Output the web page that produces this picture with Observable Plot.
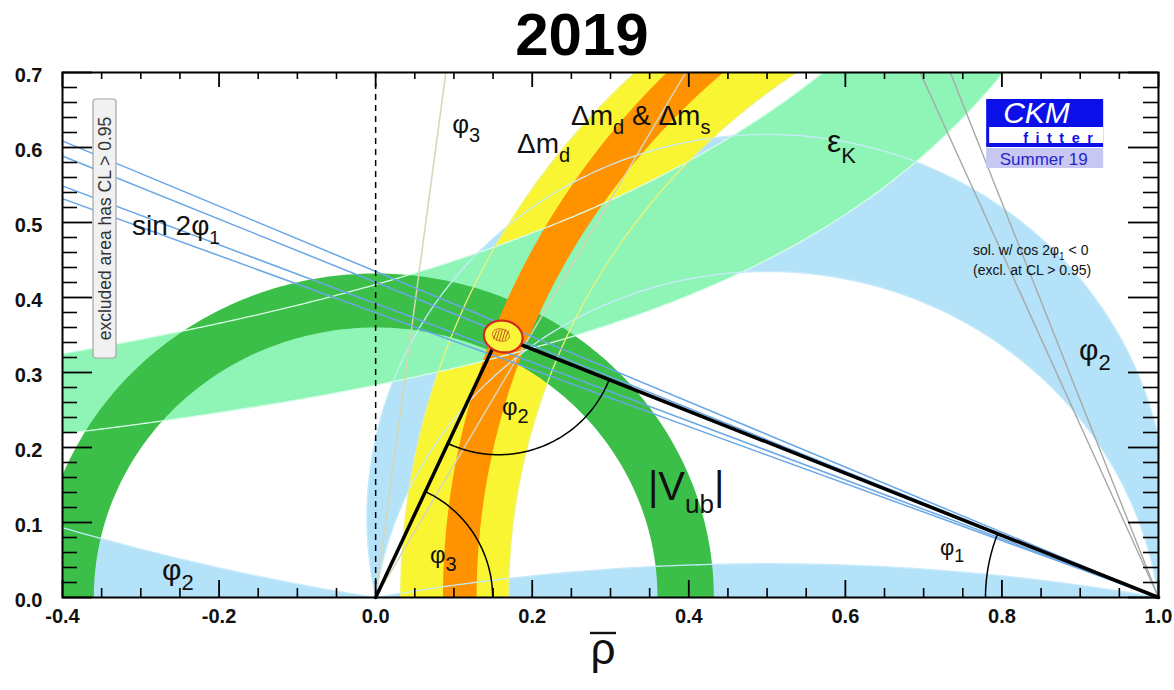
<!DOCTYPE html>
<html>
<head>
<meta charset="utf-8">
<script src="https://cdn.jsdelivr.net/npm/d3@7"></script>
<script src="https://cdn.jsdelivr.net/npm/@observablehq/plot@0.6"></script>
<style>
  html,body{margin:0;padding:0;background:#fff;}
  #chart svg{display:block;}
</style>
</head>
<body>
<div id="chart"></div>
<script>
// ---------------- data ----------------
const xDomain = [-0.4, 1.0];
const yDomain = [0.0, 0.7];
const xMajor = [-0.4, -0.2, 0.0, 0.2, 0.4, 0.6, 0.8, 1.0];
const yMajor = [0.0, 0.1, 0.2, 0.3, 0.4, 0.5, 0.6, 0.7];
const xTickLabels = ["-0.4", "-0.2", "0.0", "0.2", "0.4", "0.6", "0.8", "1.0"];
const yTickLabels = ["0.0", "0.1", "0.2", "0.3", "0.4", "0.5", "0.6", "0.7"];
const xMinorStep = 0.05, yMinorStep = 0.02;

// |Vub| : annulus centred on the origin (inner, outer radius)
const vubRadii = [0.360, 0.432];
// Δmd (yellow) and Δmd & Δms (orange): boundary circles [centre on ρ axis, radius]
const dmdInner = [1.000, 0.968];
const dmdOuter = [1.0197, 0.850];
const dmsInner = [1.0857, 0.9997];
const dmsOuter = [1.064, 0.935];
// εK band boundaries : η = a / (b − ρ)  [a, b]
const epsUpper = [0.590, 1.414];
const epsLower = [0.381, 1.346];
// φ2 constraint: constant-angle circles through (0,0) and (1,0), degrees
const alphaBand = [78, 98];
const alphaFlat = 169.7;
const alphaMirror = 9.3;
// sin 2φ1 lines through (1,0), φ1 in degrees; and the cos2φ1<0 solution
const sin2b = [20.8, 21.4, 22.8, 23.5];
const sin2bAlt = [66.5, 69.2];
// φ3 lines through the origin, degrees
const gamma = [60.5, 82.7];
// unitarity-triangle apex and global fit region
const apex = [0.157, 0.349];
const fitBlob = {cx: 0.163, cy: 0.348, a: 0.025, b: 0.021, tilt: -15};
const fitCore = {cx: 0.160, cy: 0.350, a: 0.011, b: 0.008, tilt: -15};
const hatchOffsets = [-0.0075, -0.0038, 0, 0.0038, 0.0075];
// angle-arc radii (pixels)
const arcPx = {phi1: 173, phi2: 119, phi3: 117};

const colors = {
  alpha: "#b4e2f8", eps: "#8ef5b6", dmd: "#f9f532", vub: "#3cbf48", dms: "#ff9200",
  alphaLine: "#c8ebfb", epsLine: "#d8fde8", dmdLine: "#eef27a",
  sin2b: "#69a7e6", alt: "#a8a8a8", gamma: "#d6d6b4"
};

const labels = [
  {x: -0.3106, y: 0.4827, size: 28, sub: 19, parts: ["sin 2φ", "_1"]},
  {x: 0.0984, y: 0.6187, size: 26, sub: 20, parts: ["φ", "_3"]},
  {x: 0.1812, y: 0.592, size: 28, sub: 20, parts: ["Δm", "_d"]},
  {x: 0.2502, y: 0.6293, size: 28, sub: 20, parts: ["Δm", "_d", " & Δm", "_s"]},
  {x: 0.5772, y: 0.5933, size: 32, sub: 22, parts: ["ε", "_K"]},
  {x: 0.899, y: 0.316, size: 30, sub: 22, parts: ["φ", "_2"]},
  {x: 0.162, y: 0.2427, size: 24, sub: 20, parts: ["φ", "_2"]},
  {x: 0.070, y: 0.0453, size: 24, sub: 20, parts: ["φ", "_3"]},
  {x: 0.7215, y: 0.056, size: 22, sub: 18, parts: ["φ", "_1"]},
  {x: 0.3485, y: 0.1293, size: 40, sub: 26, parts: ["|V", "_ub", "|"]},
  {x: -0.2723, y: 0.0227, size: 30, sub: 22, parts: ["φ", "_2"]},
  {x: 0.7637, y: 0.456, size: 14, sub: 10, parts: ["sol. w/ cos 2φ", "_1", " < 0"]},
  {x: 0.7637, y: 0.4293, size: 14, sub: 10, parts: ["(excl. at CL > 0.95)"]}
];
const titleText = "2019";
const xAxisLabel = "ρ";
const boxText = "excluded area has CL > 0.95";
const logo = {x: 0.7805, y: 0.664, big: "CKM", small: "fitter", season: "Summer 19"};
const boxAnchor = {x: -0.3604, y: 0.664};

// ---------------- layout ----------------
const W = 1174, H = 690, ML = 62, MR = 16, MT = 72, MB = 93;
const kx = (W - ML - MR) / (xDomain[1] - xDomain[0]);
const ky = (H - MT - MB) / (yDomain[1] - yDomain[0]);
const asp = ky / kx;
const FONT = "'Liberation Sans', Arial, Helvetica, sans-serif";
const rad = d => d * Math.PI / 180;

// ---------------- geometry helpers ----------------
const arc = (cx, cy, r, a0, a1, n = 240) =>
  d3.range(n + 1).map(i => { const a = a0 + (a1 - a0) * i / n; return [cx + r * Math.cos(a), cy + r * Math.sin(a)]; });
const circX = ([c, r], y) => c - Math.sqrt(r * r - y * y);
const yGrid = d3.range(0, 0.7801, 0.004);
const bandCurve = p => yGrid.map(y => [circX(p, y), y]);
const aCirc = deg => { const k = 0.5 / Math.tan(rad(deg)); return {k, r: Math.hypot(0.5, k), a1: Math.atan2(-k, 0.5)}; };
const upperArc = deg => { const c = aCirc(deg); return arc(0.5, c.k, c.r, c.a1, Math.PI - c.a1); };
const ellipse = e => d3.range(97).map(i => {
  const t = i / 96 * 2 * Math.PI, th = rad(e.tilt);
  const u = e.a * Math.cos(t), v = e.b * Math.sin(t);
  return [e.cx + u * Math.cos(th) - v * Math.sin(th), e.cy + u * Math.sin(th) + v * Math.cos(th)];
});
const dirAng = (f, t) => Math.atan2((t[1] - f[1]) * asp, t[0] - f[0]);
const angArc = (c, rpx, a0, a1) => d3.range(81).map(i => {
  const a = a0 + (a1 - a0) * i / 80, r = rpx / kx;
  return [c[0] + r * Math.cos(a), c[1] + r * Math.sin(a) / asp];
});

// regions
const vubPoly = arc(0, 0, vubRadii[1], 0, Math.PI).concat(arc(0, 0, vubRadii[0], Math.PI, 0));
const dmdPoly = bandCurve(dmdInner).concat(bandCurve(dmdOuter).reverse());
const dmsPoly = bandCurve(dmsInner).concat(bandCurve(dmsOuter).reverse());
const epsUp = d3.range(-0.45, 0.6251, 0.004).map(x => [x, epsUpper[0] / (epsUpper[1] - x)]);
const epsLo = d3.range(-0.45, 0.8451, 0.004).map(x => [x, epsLower[0] / (epsLower[1] - x)]);
const epsPoly = epsUp.concat(epsLo.slice().reverse());
const alphaOuter = upperArc(alphaBand[0]), alphaInner = upperArc(alphaBand[1]);
const alphaPoly = alphaOuter.concat(alphaInner.slice().reverse());
const alphaFlatPoly = upperArc(alphaFlat);
const mirror = (() => { const c = aCirc(alphaMirror); const a0 = Math.PI - c.a1; return arc(0.5, c.k, c.r, a0, a0 - 0.19); })();
const alphaMirrorPoly = mirror.concat([[mirror[mirror.length - 1][0], 0]]);

const sin2bLines = sin2b.map(b => [[1, 0], [-0.45, Math.tan(rad(b)) * 1.45]]);
const altLines = sin2bAlt.map(b => [[1, 0], [1 - 0.76 / Math.tan(rad(b)), 0.76]]);
const gammaLines = gamma.map(g => [[0, 0], [0.76 / Math.tan(rad(g)), 0.76]]);
const triangle = [[0, 0], apex, [1, 0]];
const arcs = [
  angArc(apex, arcPx.phi2, dirAng(apex, [0, 0]), dirAng(apex, [1, 0])),
  angArc([0, 0], arcPx.phi3, 0, dirAng([0, 0], apex)),
  angArc([1, 0], arcPx.phi1, Math.PI, dirAng([1, 0], apex))
];
const hatch = hatchOffsets.map(dx => {
  const h = fitCore.b * Math.sqrt(Math.max(0, 1 - (dx / fitCore.a) ** 2)) * 0.9;
  return [[fitCore.cx + dx - 0.002, fitCore.cy - h], [fitCore.cx + dx + 0.002, fitCore.cy + h]];
});

const xMinor = d3.range(xDomain[0], xDomain[1] + 1e-9, xMinorStep).filter(v => Math.abs(v / 0.2 - Math.round(v / 0.2)) > 1e-6);
const yMinor = d3.range(yDomain[0], yDomain[1] + 1e-9, yMinorStep).filter(v => Math.abs(v / 0.1 - Math.round(v / 0.1)) > 1e-6);

const P = d => d[0], Q = d => d[1];
const poly = (pts, fill) => Plot.line(pts, {x: P, y: Q, fill, stroke: "none", clip: true});
const curve = (pts, stroke, w = 1.3) => Plot.line(pts, {x: P, y: Q, stroke, strokeWidth: w, clip: true});

const plot = Plot.plot({
  width: W, height: H,
  marginLeft: ML, marginRight: MR, marginTop: MT, marginBottom: MB,
  x: {domain: xDomain, axis: null},
  y: {domain: yDomain, axis: null},
  style: {background: "#fff", fontFamily: FONT},
  marks: [
    poly(alphaPoly, colors.alpha),
    poly(alphaFlatPoly, colors.alpha),
    poly(alphaMirrorPoly, colors.alpha),
    poly(dmdPoly, colors.dmd),
    poly(epsPoly, colors.eps),
    poly(vubPoly, colors.vub),
    poly(dmsPoly, colors.dms),
    curve(epsUp, colors.epsLine), curve(epsLo, colors.epsLine),
    curve(alphaOuter, colors.alphaLine), curve(alphaInner, colors.alphaLine),
    curve(alphaFlatPoly, colors.alphaLine), curve(mirror, colors.alphaLine),
    curve(bandCurve(dmdInner), colors.dmdLine), curve(bandCurve(dmdOuter), colors.dmdLine),
    ...gammaLines.map(l => curve(l, colors.gamma, 1.5)),
    ...altLines.map(l => curve(l, colors.alt, 1.4)),
    ...sin2bLines.map(l => curve(l, colors.sin2b, 1.5)),
    Plot.ruleX([0], {stroke: "#000", strokeWidth: 1.5, strokeDasharray: "6,5"}),
    ...arcs.map(a => curve(a, "#000", 1.5)),
    Plot.line(triangle, {x: P, y: Q, stroke: "#000", strokeWidth: 3.5, strokeLinejoin: "miter", strokeMiterlimit: 10}),
    Plot.line(ellipse(fitBlob), {x: P, y: Q, fill: "#fbf53a", stroke: "#d42a1c", strokeWidth: 2.2}),
    Plot.line(ellipse(fitCore), {x: P, y: Q, stroke: "#b83218", strokeWidth: 0.8}),
    ...hatch.map(h => Plot.line(h, {x: P, y: Q, stroke: "#b83218", strokeWidth: 0.9})),
    Plot.frame({stroke: "#000", strokeWidth: 2}),
    // ticks, inward on all four sides
    Plot.ruleX(xMajor, {y1: yDomain[0], y2: yDomain[0] + 17 / ky, stroke: "#000", strokeWidth: 1.8}),
    Plot.ruleX(xMinor, {y1: yDomain[0], y2: yDomain[0] + 9 / ky, stroke: "#000", strokeWidth: 1.6}),
    Plot.ruleX(xMajor, {y1: yDomain[1], y2: yDomain[1] - 15 / ky, stroke: "#000", strokeWidth: 1.8}),
    Plot.ruleX(xMinor, {y1: yDomain[1], y2: yDomain[1] - 7 / ky, stroke: "#000", strokeWidth: 1.6}),
    Plot.ruleY(yMajor, {x1: xDomain[0], x2: xDomain[0] + 30 / kx, stroke: "#000", strokeWidth: 1.8}),
    Plot.ruleY(yMinor, {x1: xDomain[0], x2: xDomain[0] + 15 / kx, stroke: "#000", strokeWidth: 1.6}),
    Plot.ruleY(yMajor, {x1: xDomain[1], x2: xDomain[1] - 30 / kx, stroke: "#000", strokeWidth: 1.8}),
    Plot.ruleY(yMinor, {x1: xDomain[1], x2: xDomain[1] - 15 / kx, stroke: "#000", strokeWidth: 1.6}),
    Plot.text(xMajor, {x: d => d, frameAnchor: "bottom", dy: 25, text: (d, i) => xTickLabels[i], fontSize: 20, fontWeight: "bold", fill: "#111"}),
    Plot.text(yMajor, {y: d => d, frameAnchor: "left", dx: -20, dy: 3, textAnchor: "end", text: (d, i) => yTickLabels[i], fontSize: 20, fontWeight: "bold", fill: "#111"})
  ]
});
document.getElementById("chart").appendChild(plot);

// ---------------- annotations, placed through the plot's scales ----------------
const sx = plot.scale("x"), sy = plot.scale("y");
const svg = d3.select(plot);
const g = svg.append("g").attr("font-family", FONT).attr("text-anchor", "start");

function richText(L) {
  const t = g.append("text")
    .attr("x", sx.apply(L.x)).attr("y", sy.apply(L.y))
    .attr("text-anchor", "start")
    .attr("font-size", L.size).attr("fill", "#111")
    .style("white-space", "pre");
  let cur = 0;
  for (const p of L.parts) {
    const isSub = p.startsWith("_");
    const s = isSub ? p.slice(1) : p;
    const target = isSub ? Math.round(L.size * 0.33) : 0;
    t.append("tspan").attr("dy", target - cur).attr("font-size", isSub ? L.sub : L.size).text(s);
    cur = target;
  }
}
labels.forEach(richText);

// rotated note box
const bx = sx.apply(boxAnchor.x), by = sy.apply(boxAnchor.y);
const bg = g.append("g").attr("transform", `translate(${bx},${by})`);
bg.append("rect").attr("width", 23).attr("height", 259).attr("rx", 3)
  .attr("fill", "#f1f1f1").attr("stroke", "#a5a5a5").attr("stroke-width", 1.2);
bg.append("text").attr("transform", "translate(12,129.5) rotate(-90)")
  .attr("text-anchor", "middle").attr("dominant-baseline", "central")
  .attr("font-size", 17.5).attr("fill", "#333").text(boxText);

// CKMfitter logo
const lx = sx.apply(logo.x), ly = sy.apply(logo.y);
const lg = g.append("g").attr("transform", `translate(${lx},${ly})`);
lg.append("rect").attr("width", 117).attr("height", 48).attr("fill", "#0b10e8");
lg.append("rect").attr("x", 3).attr("y", 28).attr("width", 114).attr("height", 16).attr("fill", "#fff");
lg.append("rect").attr("y", 49).attr("width", 117).attr("height", 20).attr("fill", "#c7c7f1");
lg.append("text").attr("x", 17).attr("y", 24).attr("font-size", 30).attr("font-style", "italic")
  .attr("text-anchor", "start").attr("fill", "#fff").text(logo.big);
lg.append("text").attr("x", 37).attr("y", 44).attr("font-size", 14.5).attr("font-weight", "bold")
  .attr("text-anchor", "start").attr("letter-spacing", 7.5).attr("fill", "#0b10e8").text(logo.small);
lg.append("text").attr("x", 57.5).attr("y", 66).attr("font-size", 17).attr("text-anchor", "middle")
  .attr("fill", "#2626c8").text(logo.season);

// title
g.append("text").attr("x", 582).attr("y", 55).attr("text-anchor", "middle")
  .attr("font-size", 60).attr("font-weight", "bold").attr("fill", "#000").text(titleText);

// x axis label: ρ with a bar
const rx = sx.apply(0.291);
g.append("text").attr("x", rx).attr("y", 664).attr("text-anchor", "middle")
  .attr("font-size", 44).attr("fill", "#111").text(xAxisLabel);
g.append("line").attr("x1", rx - 13).attr("x2", rx + 13).attr("y1", 633).attr("y2", 633)
  .attr("stroke", "#111").attr("stroke-width", 2.4);
</script>
</body>
</html>
